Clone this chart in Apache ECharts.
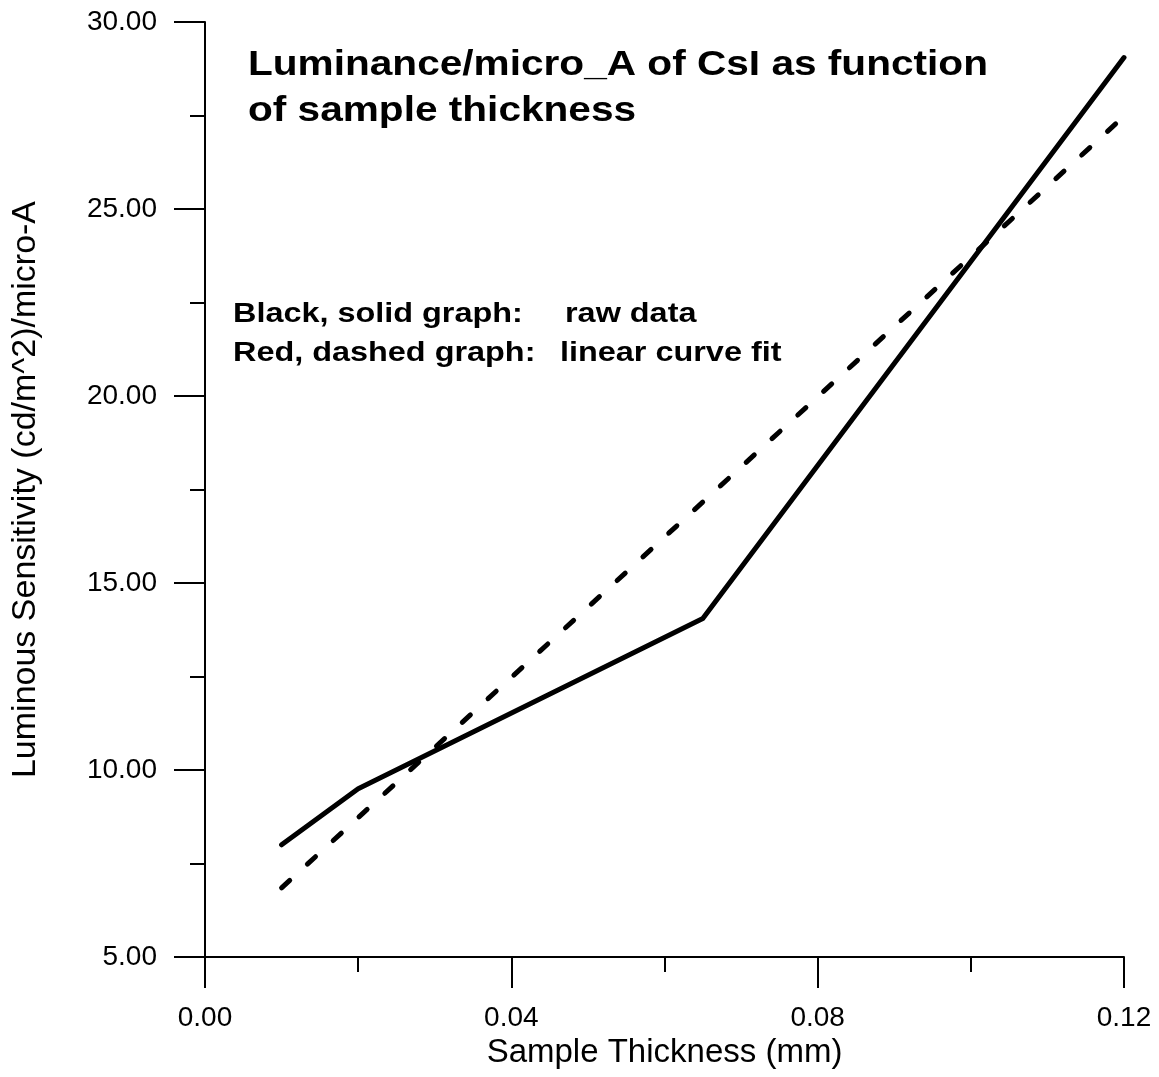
<!DOCTYPE html>
<html>
<head>
<meta charset="utf-8">
<script src="https://cdn.jsdelivr.net/npm/echarts@6/dist/echarts.min.js"></script>
<style>
html,body{margin:0;padding:0;background:#fff;overflow:hidden;}
#chart{width:1159px;height:1077px;}
</style>
</head>
<body>
<div id="chart"></div>
<script>
// Raw data (black, solid)
const rawThickness = [0.01, 0.02, 0.065, 0.12];
const rawSensitivity = [8.0, 9.5, 14.05, 29.05];
// Linear curve fit (dashed)
const fitThickness = [0.01, 0.12];
const fitSensitivity = [6.85, 27.48];

const titleLines = ['Luminance/micro_A of CsI as function', 'of sample thickness'];
const xAxisName = 'Sample Thickness (mm)';
const yAxisName = 'Luminous Sensitivity (cd/m^2)/micro-A';
const noteLabels = ['Black, solid graph:', 'Red, dashed graph:'];
const noteValues = ['raw data', 'linear curve fit'];
const xTickLabels = {0: '0.00', 0.04: '0.04', 0.08: '0.08', 0.12: '0.12'};

const FONT = '"Liberation Sans", Arial, sans-serif';

const chart = echarts.init(document.getElementById('chart'), null, {renderer: 'canvas', width: 1159, height: 1077});

function txt(text, x, y, size, sx) {
  return {
    type: 'text', x: x, y: y, scaleX: sx, scaleY: 1, z: 10,
    style: {text: text, font: 'bold ' + size + 'px ' + FONT, fill: '#000', align: 'left', verticalAlign: 'middle'}
  };
}

const option = {
  backgroundColor: '#ffffff',
  animation: false,
  grid: {left: 205, top: 22, width: 919, height: 935, containLabel: false},
  xAxis: {
    type: 'value',
    min: 0, max: 0.12, interval: 0.04,
    name: xAxisName,
    nameLocation: 'middle',
    nameGap: 79,
    nameTextStyle: {fontFamily: FONT, fontSize: 33, color: '#000'},
    axisLine: {show: true, onZero: false, lineStyle: {color: '#000', width: 2}},
    axisTick: {show: true, length: 31, lineStyle: {color: '#000', width: 2}},
    minorTick: {show: true, splitNumber: 2, length: 15, lineStyle: {color: '#000', width: 2}},
    axisLabel: {margin: 47, fontFamily: FONT, fontSize: 28, color: '#000',
      formatter: v => xTickLabels[Math.round(v * 100) / 100] ?? v.toFixed(2)},
    splitLine: {show: false},
    minorSplitLine: {show: false}
  },
  yAxis: {
    type: 'value',
    min: 5, max: 30, interval: 5,
    name: yAxisName,
    nameLocation: 'middle',
    nameGap: 162,
    nameRotate: 90,
    nameTextStyle: {fontFamily: FONT, fontSize: 34, color: '#000'},
    axisLine: {show: true, onZero: false, lineStyle: {color: '#000', width: 2}},
    axisTick: {show: true, length: 31, lineStyle: {color: '#000', width: 2}},
    minorTick: {show: true, splitNumber: 2, length: 15, lineStyle: {color: '#000', width: 2}},
    axisLabel: {margin: 48, fontFamily: FONT, fontSize: 28, color: '#000',
      formatter: v => v.toFixed(2)},
    splitLine: {show: false},
    minorSplitLine: {show: false}
  },
  graphic: [
    txt(titleLines[0], 248, 65, 35, 1.16),
    txt(titleLines[1], 248, 111, 35, 1.16),
    txt(noteLabels[0], 233, 315, 27, 1.2),
    txt(noteValues[0], 565, 315, 27, 1.2),
    txt(noteLabels[1], 233, 354, 27, 1.2),
    txt(noteValues[1], 560, 354, 27, 1.2)
  ],
  series: [
    {
      name: 'raw data',
      type: 'line',
      data: rawThickness.map((x, i) => [x, rawSensitivity[i]]),
      showSymbol: false,
      symbol: 'none',
      lineStyle: {color: '#000', width: 5, cap: 'round', join: 'round'}
    },
    {
      name: 'linear curve fit',
      type: 'line',
      data: fitThickness.map((x, i) => [x, fitSensitivity[i]]),
      showSymbol: false,
      symbol: 'none',
      lineStyle: {color: '#000', width: 5, type: [11, 24], cap: 'round'}
    }
  ]
};

chart.setOption(option);
</script>
</body>
</html>
